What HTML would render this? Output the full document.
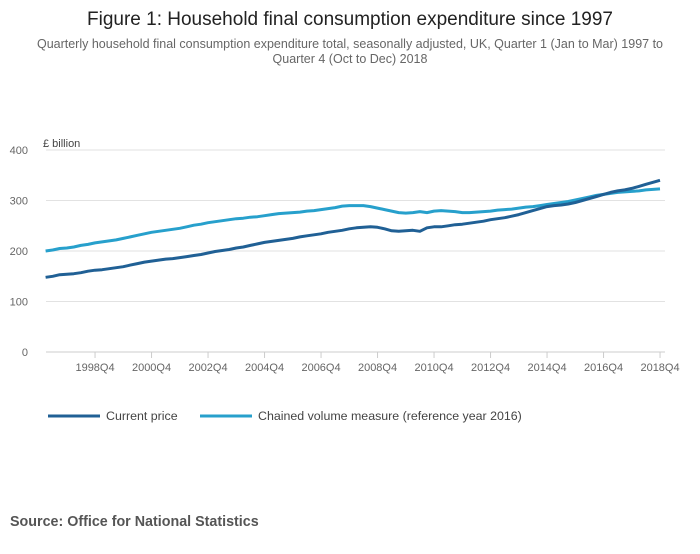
<!DOCTYPE html>
<html><head><meta charset="utf-8"><style>
body{margin:0;background:#fff;font-family:"Liberation Sans",sans-serif;}
svg text{font-family:"Liberation Sans",sans-serif;}
</style></head><body>
<svg width="700" height="549" xmlns="http://www.w3.org/2000/svg">
<text x="350" y="25" text-anchor="middle" font-size="19" fill="#222">Figure 1: Household final consumption expenditure since 1997</text>
<text x="350" y="48" text-anchor="middle" font-size="12.5" fill="#666">Quarterly household final consumption expenditure total, seasonally adjusted, UK, Quarter 1 (Jan to Mar) 1997 to</text>
<text x="350" y="63" text-anchor="middle" font-size="12.5" fill="#666">Quarter 4 (Oct to Dec) 2018</text>
<text x="43" y="147" font-size="11" fill="#444">£ billion</text>
<g id="grid"></g><g id="xax"></g><g id="lines"></g>
<g>
<line x1="48" y1="416" x2="100" y2="416" stroke="#206095" stroke-width="3"/>
<text x="106" y="420" font-size="12.4" fill="#444">Current price</text>
<line x1="200" y1="416" x2="252" y2="416" stroke="#27a0cc" stroke-width="3"/>
<text x="258" y="420" font-size="12.4" fill="#444">Chained volume measure (reference year 2016)</text>
</g>
<text x="10" y="526" font-size="14.3" font-weight="bold" fill="#555">Source: Office for National Statistics</text>
</svg>
<script>
const yTicks=[0,100,200,300,400];
const xTickLabels=["1998Q4","2000Q4","2002Q4","2004Q4","2006Q4","2008Q4","2010Q4","2012Q4","2014Q4","2016Q4","2018Q4"];
const currentPrice=[148,150,153,154,155,157,160,162,163,165,167,169,172,175,178,180,182,184,185,187,189,191,193,196,199,201,203,206,208,211,214,217,219,221,223,225,228,230,232,234,237,239,241,244,246,247,248,247,244,240,239,240,241,239,246,248,248,250,252,253,255,257,259,262,264,266,269,272,276,280,284,288,290,291,293,296,300,304,308,312,316,319,321,324,328,332,336,340];
const chainedVolume=[200,202,205,206,208,211,213,216,218,220,222,225,228,231,234,237,239,241,243,245,248,251,253,256,258,260,262,264,265,267,268,270,272,274,275,276,277,279,280,282,284,286,289,290,290,290,288,285,282,279,276,275,276,278,276,279,280,279,278,276,276,277,278,279,281,282,283,285,287,288,290,292,294,296,298,301,304,307,310,312,314,316,317,318,319,321,322,323];
const NS="http://www.w3.org/2000/svg";
const xS=i=>45.6+i*7.0625;
const yS=v=>352-v*0.505;
const grid=document.getElementById('grid');
yTicks.forEach(t=>{
 const l=document.createElementNS(NS,'line');
 l.setAttribute('x1',46);l.setAttribute('x2',665);l.setAttribute('y1',yS(t));l.setAttribute('y2',yS(t));
 l.setAttribute('stroke',t===0?'#ccc':'#e2e2e2');
 
 
 grid.appendChild(l);
 const tx=document.createElementNS(NS,'text');
 tx.setAttribute('x',28);tx.setAttribute('y',yS(t)+4);tx.setAttribute('text-anchor','end');
 tx.setAttribute('font-size','11');tx.setAttribute('fill','#666');tx.textContent=t;
 
 
 grid.appendChild(tx);
});
const xax=document.getElementById('xax');
xTickLabels.forEach((lab,k)=>{
 const i=7+k*8;
 const l=document.createElementNS(NS,'line');
 l.setAttribute('x1',xS(i));l.setAttribute('x2',xS(i));l.setAttribute('y1',352);l.setAttribute('y2',358);
 l.setAttribute('stroke','#ccc');
 
 
 xax.appendChild(l);
 const tx=document.createElementNS(NS,'text');
 tx.setAttribute('x',xS(i));tx.setAttribute('y',371);tx.setAttribute('text-anchor','middle');
 tx.setAttribute('font-size','11');tx.setAttribute('fill','#666');tx.textContent=lab;
 
 
 xax.appendChild(tx);
});
const lines=document.getElementById('lines');
[[chainedVolume,'#27a0cc','line-chained-volume'],[currentPrice,'#206095','line-current-price']].forEach(([d,c,n])=>{
 const p=document.createElementNS(NS,'path');
 p.setAttribute('d',d.map((v,i)=>(i?'L':'M')+xS(i).toFixed(1)+' '+yS(v).toFixed(1)).join(''));
 p.setAttribute('fill','none');p.setAttribute('stroke',c);p.setAttribute('stroke-width','3');
 p.setAttribute('stroke-linejoin','round');
 
 
 lines.appendChild(p);
});
</script>
</body></html>
